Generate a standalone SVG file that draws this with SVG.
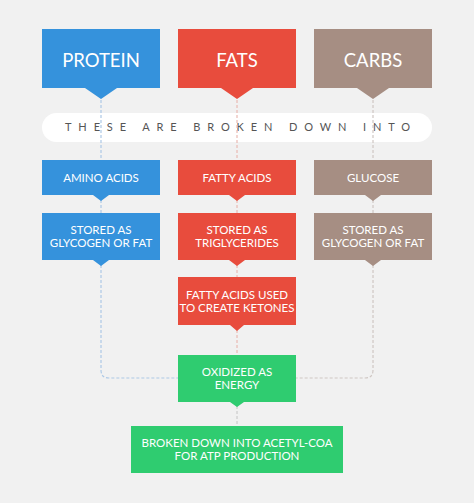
<svg xmlns="http://www.w3.org/2000/svg" width="474" height="503" viewBox="0 0 474 503">
<style>
.bg{fill:#f1f1f1}
.blue{fill:#3592dc}
.red{fill:#e84c3d}
.brown{fill:#a68e83}
.green{fill:#2fcc70}
.t{font-family:Lato,"Open Sans","Liberation Sans",sans-serif;fill:#fff;text-anchor:middle}
.big{font-size:18.5px}
.sm{font-size:11.5px}
.dash{fill:none;stroke-width:1.2;stroke-dasharray:3 2}
</style>
<rect class="bg" x="0" y="0" width="474" height="503"/>
<g id="pill">
<rect x="42" y="113" width="390" height="29" rx="14.5" fill="#ffffff"/>
<text x="65" y="131" textLength="345" lengthAdjust="spacing" style="font-family:Lato,'Open Sans','Liberation Sans',sans-serif;font-size:11px;fill:#555">THESE ARE BROKEN DOWN INTO</text>
</g>
<g id="connectors">
<path class="dash" stroke="#adc9e6" d="M101 100 V370 Q101 378 109 378 H178"/>
<path class="dash" stroke="#e9b9b3" d="M237 100 V355"/>
<path class="dash" stroke="#cfc7c3" d="M373 100 V370 Q373 378 365 378 H296"/>
<path class="dash" stroke="#cccccc" d="M237 406 V426"/>
</g>
<g id="protein">
<path class="blue" d="M42 29 H160 V88 H117 L101 99 L85 88 H42 Z"/>
<text class="t big" x="101" y="66.5">PROTEIN</text>
</g>
<g id="fats">
<path class="red" d="M178 29 H296 V88 H253 L237 99 L221 88 H178 Z"/>
<text class="t big" x="237" y="66.5">FATS</text>
</g>
<g id="carbs">
<path class="brown" d="M314 29 H432 V88 H389 L373 99 L357 88 H314 Z"/>
<text class="t big" x="373" y="66.5">CARBS</text>
</g>
<g id="amino">
<path class="blue" d="M42 160 H160 V195 H109 L101 201 L93 195 H42 Z"/>
<text class="t sm" x="101" y="181.5">AMINO ACIDS</text>
</g>
<g id="fatty">
<path class="red" d="M178 160 H296 V195 H245 L237 201 L229 195 H178 Z"/>
<text class="t sm" x="237" y="181.5">FATTY ACIDS</text>
</g>
<g id="glucose">
<path class="brown" d="M314 160 H432 V195 H381 L373 201 L365 195 H314 Z"/>
<text class="t sm" x="373" y="181.5">GLUCOSE</text>
</g>
<g id="stored-protein">
<path class="blue" d="M42 213 H160 V260 H109 L101 266 L93 260 H42 Z"/>
<text class="t sm" x="101" y="234">STORED AS</text>
<text class="t sm" x="101" y="246.5">GLYCOGEN OR FAT</text>
</g>
<g id="stored-fats">
<path class="red" d="M178 213 H296 V260 H245 L237 266 L229 260 H178 Z"/>
<text class="t sm" x="237" y="234">STORED AS</text>
<text class="t sm" x="237" y="246.5">TRIGLYCERIDES</text>
</g>
<g id="stored-carbs">
<path class="brown" d="M314 213 H432 V260 H381 L373 266 L365 260 H314 Z"/>
<text class="t sm" x="373" y="234">STORED AS</text>
<text class="t sm" x="373" y="246.5">GLYCOGEN OR FAT</text>
</g>
<g id="ketones">
<path class="red" d="M178 277 H296 V325 H244 L237 331 L230 325 H178 Z"/>
<text class="t sm" x="237" y="299">FATTY ACIDS USED</text>
<text class="t sm" x="237" y="311.5">TO CREATE KETONES</text>
</g>
<g id="oxidized">
<path class="green" d="M178 355 H296 V402 H244 L237 407 L230 402 H178 Z"/>
<text class="t sm" x="237" y="376">OXIDIZED AS</text>
<text class="t sm" x="237" y="389">ENERGY</text>
</g>
<g id="acetyl">
<rect class="green" x="131" y="426" width="212" height="47"/>
<text class="t sm" x="237" y="446.5">BROKEN DOWN INTO ACETYL-COA</text>
<text class="t sm" x="237" y="459.5">FOR ATP PRODUCTION</text>
</g>
</svg>
